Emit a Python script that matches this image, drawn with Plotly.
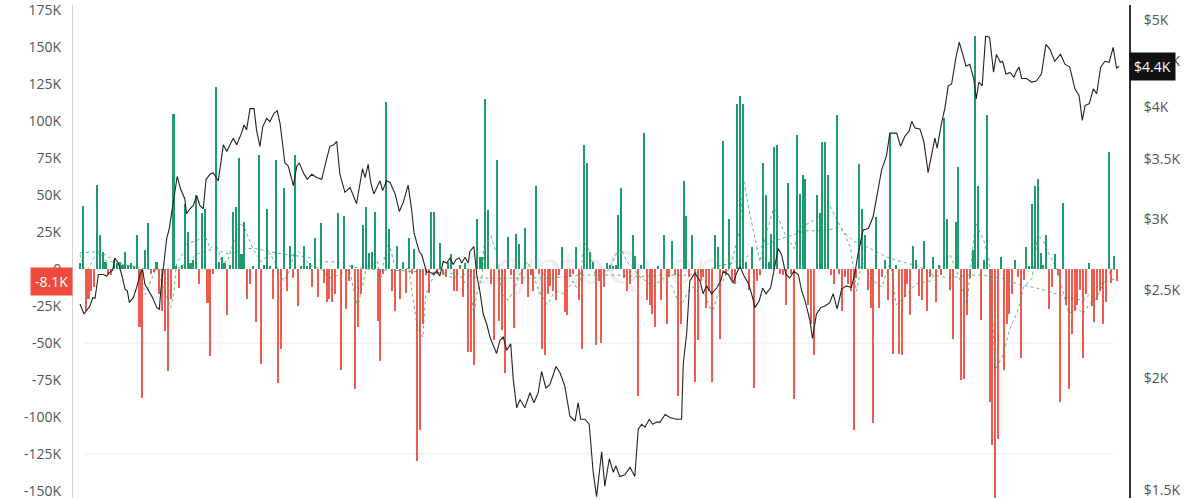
import math

import plotly.graph_objects as go

# Daily exchange netflow, thousands (first bar ~ early Oct 2024, last ~ early Oct 2025)
NETFLOW_K = [
    4, 43, -28, -20, -15, -12, 57, 23, 12, 5,
    -3, -4, 6, 4, 5, 3, 12, 3, 4, 2,
    23, -39, -87, 13, 31, -3, -2, 5, -17, -28,
    -42, -69, -20, 105, 2, -13, 3, 44, 25, 4,
    6, 50, -10, 38, 41, -23, -59, -3, 123, 5,
    8, 4, -31, 3, 39, 42, 75, 10, 32, -20,
    -10, 2, -36, 77, -64, 3, 41, 2, -20, 74,
    -77, -54, 55, -15, 16, -6, 77, -25, 2, 16,
    2, 4, -12, 21, -19, 31, -9, -22, -20, -22,
    -17, 38, -68, 36, -27, -8, 3, -81, -39, -17,
    30, 42, 11, 12, 39, -35, -62, -3, 113, 27,
    -15, -28, 16, -20, 5, -16, 21, -3, 14, -130,
    -109, -37, -4, -16, 39, 39, -3, 18, -4, -5,
    5, 10, -15, -15, 3, -19, 4, -56, -56, -65,
    34, 8, 8, 115, 40, -10, -48, 74, -35, -41,
    -70, 22, -4, -40, 24, 17, -10, 28, -19, -4,
    -15, 56, -3, -54, -58, -17, -11, -15, -21, -4,
    15, -29, -31, -5, -3, 15, -21, -54, 84, 72,
    12, 5, -51, -8, -50, -12, 4, 3, 2, 3,
    37, 55, -6, -15, -10, 23, 9, -86, 3, 92,
    -21, -24, -30, -39, 2, -21, 23, -37, -5, 19,
    -4, -86, -37, 60, 36, -5, 23, -76, -48, -8,
    -5, -26, -15, -76, 23, 15, -47, 87, -4, 34,
    -8, -10, 112, 117, 112, 5, -14, 15, -80, -8,
    -4, 72, 50, 5, 24, 83, 84, -3, -4, -24,
    58, -3, -88, 91, 51, 64, 61, -24, -37, -58,
    50, 38, 86, 86, 64, -4, -10, 104, -3, -28,
    -5, -10, -15, -109, -6, 71, 41, 23, -14, -26,
    -104, 35, -26, -5, 6, -21, 92, -57, 3, -57,
    -58, -19, -10, -31, 16, 6, -18, -21, 19, -28,
    -5, 8, -22, 3, -4, 102, 34, -14, -47, 32,
    69, -75, -74, -31, -6, 13, 158, 56, -34, 6,
    104, -90, -119, -158, -115, 8, -68, -37, -30, -17,
    6, -5, -60, -7, 15, 2, 44, 56, 61, 11,
    3, 23, -27, -12, 10, -4, -90, 45, -24, -81,
    -44, -28, -24, -14, -60, -17, 4, -25, -36, -21,
    -15, -37, -22, 79, -9, 9, -8.1,
]
DAYS = list(range(len(NETFLOW_K)))

# Price (USD), read at the turning points of the line
PRICE_DAY = [
    0.0, 1.4, 3.5, 4.5, 5.3, 6.5, 8.2, 9.4, 10.3, 11.5, 12.3, 13.5, 14.7, 15.9, 16.7,
    17.4, 18.8, 20.0, 21.2, 22.1, 22.9, 24.1, 25.6, 27.1, 28.0, 28.5, 29.4, 30.6, 31.5,
    32.9, 34.3, 35.5, 37.0, 37.6, 38.8, 40.0, 41.2, 42.3, 43.5, 44.5, 45.9, 47.0, 48.8,
    50.6, 51.8, 52.9, 54.1, 55.3, 57.0, 57.9, 58.8, 60.0, 61.4, 62.3, 63.5, 64.5, 65.9,
    67.0, 68.4, 69.6, 70.6, 72.3, 73.5, 75.3, 76.5, 77.4, 78.8, 80.2, 81.8, 83.5, 85.3,
    87.0, 88.2, 89.6, 90.6, 91.7, 93.5, 95.3, 97.6, 99.7, 100.6, 101.7, 102.6, 103.7,
    104.7, 105.9, 106.8, 108.2, 109.4, 111.2, 112.7, 114.1, 115.8, 117.0, 117.9, 118.8,
    119.7, 120.6, 121.5, 122.3, 123.5, 124.7, 125.9, 127.0, 128.2, 129.4, 130.6, 131.7,
    132.7, 133.8, 134.7, 135.9, 137.0, 137.6, 139.0, 140.0, 141.1, 142.3, 143.5, 144.7,
    147.0, 148.2, 149.4, 150.6, 152.0, 152.9, 154.1, 155.3, 157.0, 158.8, 160.2, 161.7,
    162.9, 164.4, 165.8, 168.0, 169.4, 171.1, 172.9, 174.7, 175.8, 176.7, 178.2, 179.7,
    181.1, 182.3, 184.1, 185.2, 186.8, 188.2, 189.1, 190.5, 192.3, 194.1, 195.8, 197.0,
    198.2, 199.4, 200.9, 202.1, 203.5, 204.7, 206.5, 208.2, 210.5, 212.3, 212.9, 214.1,
    215.2, 217.0, 218.8, 219.9, 221.1, 222.9, 224.7, 226.1, 227.0, 228.8, 230.5, 231.7,
    232.9, 234.1, 235.8, 237.0, 238.2, 239.7, 240.9, 242.1, 243.7, 245.2, 246.4, 247.6,
    249.1, 250.5, 251.9, 253.5, 254.7, 255.9, 257.6, 258.5, 259.9, 261.4, 262.9, 264.6,
    265.8, 267.2, 268.8, 270.5, 272.2, 273.4, 274.6, 276.4, 278.2, 279.9, 281.6, 282.9,
    284.6, 285.8, 288.2, 289.6, 291.1, 292.6, 293.5, 294.7, 296.4, 297.8, 299.3, 300.5,
    301.7, 302.5, 304.0, 305.2, 306.4, 307.6, 309.1, 310.3, 311.5, 312.7, 314.0, 315.4,
    316.3, 317.2, 318.4, 319.6, 321.0, 322.4, 323.4, 324.8, 325.6, 326.8, 328.2, 329.6,
    330.5, 331.4, 332.3, 334.0, 335.8, 337.5, 339.3, 340.9, 342.3, 344.0, 346.0, 347.6,
    349.3, 351.1, 352.6, 353.7, 354.7, 356.2, 357.6, 358.8, 360.2, 361.7, 363.2, 364.6,
    365.8, 366.7,
]
PRICE_USD = [
    2415, 2354, 2403, 2455, 2451, 2605, 2605, 2595, 2616, 2632, 2717, 2683, 2605, 2509, 2498,
    2425, 2455, 2520, 2605, 2638, 2540, 2498, 2455, 2393, 2383, 2498, 2649, 2857, 2930,
    3135, 3348, 3242, 3161, 3043, 3082, 3109, 3188, 3109, 3082, 3324, 3367, 3381, 3311,
    3632, 3570, 3632, 3693, 3632, 3741, 3820, 3773, 3983, 3983, 3773, 3617, 3804, 3884,
    3852, 3934, 3961, 3836, 3467, 3438, 3270, 3438, 3467, 3381, 3324, 3367, 3339, 3324,
    3497, 3617, 3632, 3662, 3370, 3215, 3256, 3122, 3415, 3339, 3453, 3297, 3202,
    3256, 3311, 3229, 3311, 3297, 3202, 3061, 3135, 3275, 3082, 2895, 2834,
    2763, 2740, 2683, 2622, 2622, 2605, 2627, 2595, 2694, 2683, 2717, 2672,
    2706, 2717, 2683, 2722, 2683, 2763, 2798, 2605, 2498, 2354, 2296, 2219,
    2128, 2201, 2219, 2146, 2181, 1990, 1852, 1891, 1852, 1924, 1876, 1924,
    2032, 1948, 1965, 2058, 2025, 1957, 1812, 1790, 1876, 1798, 1798, 1775,
    1571, 1475, 1654, 1515, 1625, 1570, 1595, 1553, 1560, 1590, 1553, 1753,
    1775, 1762, 1798, 1775, 1785, 1785, 1820, 1806, 1798, 1798, 2073, 2240,
    2562, 2614, 2562, 2480, 2530, 2480, 2516, 2562, 2627, 2605, 2549, 2614,
    2660, 2605, 2549, 2480, 2393, 2435, 2516, 2480, 2516, 2660, 2784, 2740,
    2605, 2582, 2627, 2605, 2498, 2435, 2315, 2212, 2354, 2393, 2403, 2423,
    2480, 2385, 2509, 2530, 2520, 2605, 2750, 2920, 2930, 3020, 3230, 3405,
    3530, 3741, 3741, 3617, 3712, 3760, 3856, 3791, 3782, 3662, 3381, 3529,
    3693, 3600, 3836, 3983, 4223, 4243, 4537, 4722, 4577, 4441, 4463, 4303,
    4084, 4264, 4223, 4795, 4783, 4373, 4577, 4485, 4497, 4351, 4370, 4318,
    4385, 4430, 4303, 4303, 4264, 4275, 4351, 4696, 4636, 4497, 4577, 4463,
    4430, 4190, 4118, 3865, 4015, 4035, 4190, 4138, 4430, 4497, 4485, 4660,
    4420, 4440,
]

# Short moving average of netflow (thousands)
MA_FAST_DAY = [
    0, 2, 5, 7, 9, 13, 16, 20, 22, 23, 27, 30, 32, 33, 34, 36, 38, 41, 44, 46, 48, 50,
    52, 55, 56, 58, 61, 64, 67, 70, 72, 74, 76, 79, 81, 85, 88, 91, 95, 98, 99, 101,
    105, 106, 108, 109, 111, 114, 116, 119, 121, 122, 125, 127, 129, 132, 134, 138, 139,
    140, 142, 143, 145, 147, 149, 151, 153, 155, 158, 160, 162, 165, 167, 169, 171, 174,
    176, 178, 180, 182, 183, 185, 187, 189, 191, 193, 195, 198, 200, 202, 206, 209, 212,
    214, 216, 219, 221, 223, 226, 228, 230, 233, 234, 236, 238, 240, 242, 245, 247, 249,
    252, 254, 258, 261, 264, 266, 268, 270, 272, 274, 276, 280, 283, 286, 288, 291, 295,
    300, 303, 307, 310, 313, 316, 319, 321, 323, 326, 328, 331, 333, 336, 338, 340, 342,
    345, 347, 349, 352, 354, 356, 359, 361, 364, 366,
]
MA_FAST_K = [
    10, -3, 8, 11, 6, 4, 3, 1, -8, -17, 1, -15, -26, -17, 3, 10, 18, 19, 23, 14, 18, 5,
    5, 23, 32, 28, 14, 5, 11, 0, -8, -1, 14, 8, 3, 0, -6, -4, 0, -26, -17, 1,
    5, -8, 14, 18, 3, -1, 1, -39, -46, -17, -4, 1, -4, -6, -4, -15, -32,
    -17, -4, 28, 23, 10, -17, -21, -15, -4, 5, -4, -15, -24, -17, -15, -17, -8,
    -15, 19, 12, -6, -8, -4, 1, 10, 14, 5, 1, -6, -8, -12, -6, -12, -26,
    -17, -12, -12, -19, -30, -12, -4, 5, 28, 63, 41, 23, 5, 23, 43, 32, 23,
    14, 28, 32, 36, 45, 38, 30, 23, 14, -15, 5, -8, -12, 5, -24, -19, -10,
    -8, 0, 10, -4, -24, 32, 19, 5, -68, -57, -41, -28, -12, -6, 23, 19, 10,
    -1, -15, -30, -26, -30, -24, -19, -10, 0, 0,
]

# Long moving average of netflow (thousands)
MA_SLOW_DAY = [
    0, 7, 12, 14, 21, 25, 32, 35, 38, 41, 45, 48, 53, 58, 62, 67, 72, 77, 81, 86, 91,
    95, 102, 113, 123, 134, 141, 152, 166, 176, 183, 191, 198, 205, 215, 222, 227, 233,
    239, 245, 251, 256, 262, 268, 273, 279, 285, 290, 296, 301, 307, 313, 319, 325, 331,
    336, 342, 348, 354, 360, 366,
]
MA_SLOW_K = [
    11, 12, 6, 4, 1, 0, 0, 1, 5, 10, 13, 13, 10, 14, 14, 12, 10, 9, 8, 5, 5,
    2, 0, -1, -2, -3, -6, -6, -6, -4, -4, -4, -5, -4, -4, 0, 3, 5,
    14, 19, 23, 26, 26, 28, 19, 14, 8, 5, 2, -4, -6, -4, -4, -6, -10,
    -12, -15, -19, -21, -10, -6,
]

LEFT_TICKS_K = [175, 150, 125, 100, 75, 50, 25, 0, -25, -50, -75, -100, -125, -150]
LEFT_TICK_TEXT = ["175K", "150K", "125K", "100K", "75K", "50K", "25K", "0",
                  "-25K", "-50K", "-75K", "-100K", "-125K", "-150K"]
RIGHT_TICKS = [1500, 2000, 2500, 3000, 3500, 4000, 4500, 5000]
RIGHT_TICK_TEXT = ["$1.5K", "$2K", "$2.5K", "$3K", "$3.5K", "$4K", "$4.5K", "$5K"]
GRID_K = [-125, -50]

GREEN = "#1e9c6c"
RED = "#f05a4f"
TICK_FONT = dict(family="Open Sans, Noto Sans, sans-serif", size=14, color="#555555")

fig = go.Figure()

fig.add_trace(go.Bar(
    x=DAYS,
    y=NETFLOW_K,
    width=0.72,
    marker=dict(color=[GREEN if v >= 0 else RED for v in NETFLOW_K], line_width=0),
    yaxis="y",
    hoverinfo="skip",
))
fig.add_trace(go.Scatter(
    x=MA_SLOW_DAY, y=MA_SLOW_K, mode="lines", yaxis="y",
    line=dict(color="rgba(30,156,108,0.75)", width=1, dash="dot"),
    hoverinfo="skip",
))
fig.add_trace(go.Scatter(
    x=MA_FAST_DAY, y=MA_FAST_K, mode="lines", yaxis="y",
    line=dict(color="rgba(30,156,108,0.75)", width=1, dash="dot"),
    hoverinfo="skip",
))
fig.add_trace(go.Scatter(
    x=PRICE_DAY, y=PRICE_USD, mode="lines", yaxis="y2",
    line=dict(color="#222222", width=1.1),
    hoverinfo="skip",
))

for level in GRID_K:
    fig.add_shape(
        type="line", xref="paper", x0=0.01, x1=0.985, yref="y", y0=level, y1=level,
        line=dict(color="#eeeeee", width=1), layer="below",
    )

fig.add_annotation(
    text="CryptoQuant", xref="paper", yref="paper", x=0.5, y=0.47,
    showarrow=False, font=dict(family="Open Sans, sans-serif", size=46,
                               color="rgba(150,150,150,0.16)"),
)
fig.add_annotation(
    text=f"{NETFLOW_K[-1]:.1f}K", xref="paper", x=0, xanchor="right",
    yref="y", y=NETFLOW_K[-1], showarrow=False, bgcolor="#ee4b3d", borderpad=4,
    font=dict(family="Open Sans, sans-serif", size=14, color="white"),
)
fig.add_annotation(
    text=f"${PRICE_USD[-1] / 1000:.1f}K", xref="paper", x=1, xanchor="left",
    yref="y2", y=math.log10(PRICE_USD[-1]), showarrow=False, bgcolor="#111111",
    borderpad=4, font=dict(family="Open Sans, sans-serif", size=14, color="white"),
)

fig.update_layout(
    width=1200,
    height=500,
    margin=dict(l=73, r=71, t=0, b=0),
    paper_bgcolor="white",
    plot_bgcolor="white",
    showlegend=False,
    bargap=0,
    xaxis=dict(visible=False, range=[-2.47, 370.2]),
    yaxis=dict(
        range=[-154.7, 178.7], tickvals=LEFT_TICKS_K, ticktext=LEFT_TICK_TEXT,
        showgrid=False, zeroline=False, showline=True, linecolor="#d4d4d4",
        linewidth=1, tickfont=TICK_FONT, ticklabelstandoff=8,
        ticklabeloverflow="allow",
    ),
    yaxis2=dict(
        overlaying="y", side="right", type="log",
        range=[3.1672, 3.7155], tickvals=RIGHT_TICKS, ticktext=RIGHT_TICK_TEXT,
        showgrid=False, zeroline=False, showline=True, linecolor="#333333",
        linewidth=2, tickfont=TICK_FONT, ticklabelstandoff=10,
        ticklabeloverflow="allow",
    ),
)

fig.write_html(
    "out.html",
    config={"displayModeBar": False},
    post_script="document.body.style.margin='0';",
)
